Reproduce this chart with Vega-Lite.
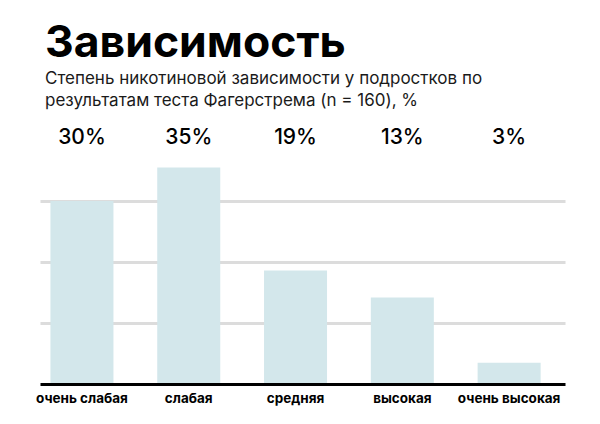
{
  "$schema": "https://vega.github.io/schema/vega-lite/v6.json",
  "autosize": {"type": "none"},
  "width": 525,
  "height": 244,
  "padding": {"left": 40, "top": 140, "right": 35, "bottom": 40},
  "background": "white",
  "config": {
    "view": {"stroke": null},
    "font": "Inter"
  },
  "title": {
    "text": "Зависимость",
    "subtitle": ["Степень никотиновой зависимости у подростков по", "результатам теста Фагерстрема (n = 160), %"],
    "anchor": "start",
    "frame": "group",
    "dx": 5,
    "offset": 17,
    "font": "Inter",
    "fontSize": 44.5,
    "fontWeight": "bold",
    "color": "#000000",
    "subtitleFont": "Inter",
    "subtitleFontSize": 17,
    "subtitleLineHeight": 22,
    "subtitleColor": "#1a1a1a",
    "subtitlePadding": 5
  },
  "data": {
    "values": [
      {"category": "очень слабая", "value": 30, "label": "30%"},
      {"category": "слабая", "value": 35.5, "label": "35%"},
      {"category": "средняя", "value": 18.6, "label": "19%"},
      {"category": "высокая", "value": 14.2, "label": "13%"},
      {"category": "очень высокая", "value": 3.5, "label": "3%"}
    ]
  },
  "encoding": {
    "x": {
      "field": "category",
      "type": "nominal",
      "sort": null,
      "scale": {"paddingInner": 0.41, "paddingOuter": 0.163, "align": 0.3},
      "axis": {
        "title": null,
        "labelAngle": 0,
        "labelFont": "Inter",
        "labelFontSize": 13.5,
        "labelFontWeight": "bold",
        "labelColor": "#000000",
        "labelPadding": 7,
        "labelOverlap": false,
        "labelFlush": false,
        "labelBound": false,
        "ticks": false,
        "domainColor": "#000000",
        "domainWidth": 3,
        "zindex": 2
      }
    }
  },
  "layer": [
    {
      "mark": {"type": "bar", "color": "#d3e7eb"},
      "encoding": {
        "y": {
          "field": "value",
          "type": "quantitative",
          "scale": {"domain": [0, 40], "nice": false},
          "axis": {
            "title": null,
            "values": [10, 20, 30],
            "labels": false,
            "ticks": false,
            "domain": false,
            "grid": true,
            "gridColor": "#dcdcdc",
            "gridWidth": 3,
            "zindex": 0
          }
        }
      }
    },
    {
      "mark": {"type": "text", "font": "Inter", "fontSize": 21, "fontWeight": 500, "color": "#000000", "baseline": "middle", "dy": -2},
      "encoding": {
        "y": {"datum": 40, "type": "quantitative"},
        "text": {"field": "label"}
      }
    }
  ]
}
